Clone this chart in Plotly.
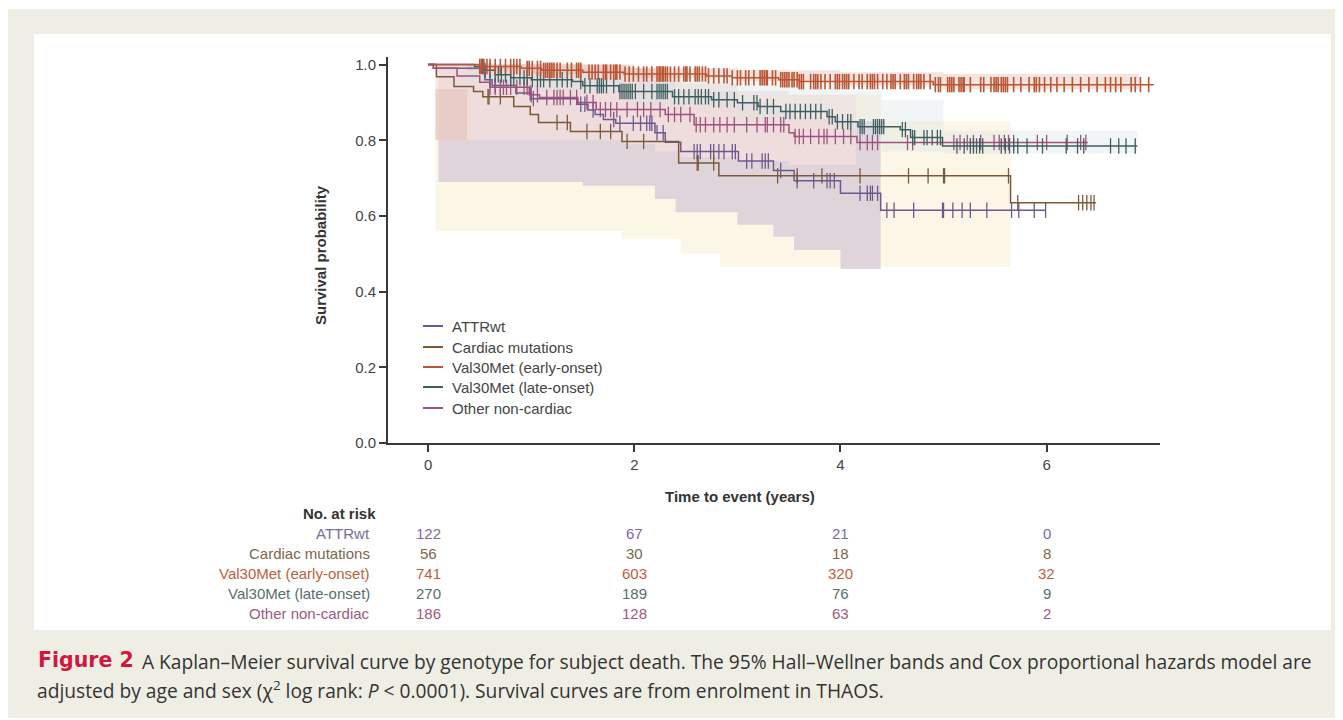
import plotly.graph_objects as go

# ---------------- data ----------------
series_names = ["ATTRwt", "Cardiac mutations", "Val30Met (early-onset)",
                "Val30Met (late-onset)", "Other non-cardiac"]
line_colors = ["#6c5a8e", "#7b5a3a", "#bb5533", "#3e5e60", "#9e527c"]
text_colors = ["#7b6b9b", "#806548", "#c0603a", "#5a6d6d", "#a0587f"]

# Kaplan-Meier step functions (time in years, survival)
attr_t = [0, 0.05, 0.5, 0.55, 0.62, 0.85, 1.0, 1.45, 1.55, 1.62, 1.7, 1.82, 2.2, 2.3, 2.45, 3.01, 3.35, 3.55, 4.0, 4.39, 5.99]
attr_s = [1.0, 0.99, 0.98, 0.96, 0.945, 0.925, 0.91, 0.895, 0.88, 0.868, 0.855, 0.845, 0.82, 0.795, 0.77, 0.745, 0.72, 0.693, 0.66, 0.615, 0.615]

card_t = [0, 0.08, 0.25, 0.44, 0.53, 0.83, 0.99, 1.07, 1.38, 1.88, 2.43, 2.82, 5.65, 6.48]
card_s = [1.0, 0.968, 0.942, 0.929, 0.915, 0.889, 0.868, 0.847, 0.823, 0.797, 0.74, 0.706, 0.635, 0.635]

early_t = [0, 0.5, 0.9, 1.1, 1.5, 1.9, 2.7, 2.95, 3.4, 3.6, 4.9, 7.04]
early_s = [1.0, 0.995, 0.99, 0.985, 0.98, 0.975, 0.97, 0.965, 0.96, 0.955, 0.947, 0.947]

late_t = [0, 0.45, 0.55, 0.65, 0.8, 1.0, 1.4, 1.5, 1.85, 2.37, 2.75, 3.0, 3.2, 3.42, 3.87, 3.95, 4.17, 4.58, 4.68, 4.99, 6.88]
late_s = [1.0, 0.995, 0.985, 0.973, 0.965, 0.96, 0.955, 0.944, 0.929, 0.915, 0.907, 0.899, 0.889, 0.876, 0.862, 0.849, 0.836, 0.828, 0.807, 0.785, 0.785]

other_t = [0, 0.05, 0.28, 0.5, 0.6, 0.98, 1.08, 1.45, 1.63, 2.3, 2.58, 3.5, 3.55, 4.16, 6.4]
other_s = [1.0, 0.99, 0.97, 0.953, 0.94, 0.92, 0.913, 0.9, 0.881, 0.868, 0.841, 0.82, 0.81, 0.794, 0.794]

# censoring times
attr_c = [0.60, 0.65, 0.99, 1.02, 1.48, 1.52, 1.60, 1.80, 1.86, 1.99, 2.06, 2.12, 2.15, 2.17, 2.22, 2.28,
          2.58, 2.61, 2.64, 2.74, 2.77, 2.82, 2.87, 2.95, 2.98, 3.09, 3.14, 3.24, 3.27, 3.30, 3.42, 3.58,
          3.74, 3.87, 3.90, 3.94, 4.19, 4.26, 4.29, 4.31, 4.36, 4.45, 4.52, 4.71, 4.99, 5.00, 5.09, 5.18,
          5.26, 5.42, 5.66, 5.73, 5.88, 5.99]
card_c = [0.58, 0.59, 0.70, 1.25, 1.35, 1.54, 1.67, 1.77, 1.93, 2.09, 2.61, 2.62, 2.77, 3.39, 3.58, 3.82,
          4.19, 4.66, 4.85, 5.00, 5.01, 5.63, 5.72, 6.31, 6.35, 6.39, 6.43, 6.46]
early_c = [0.50, 0.52, 0.54, 0.57, 0.60, 0.65, 0.70, 0.75, 0.80, 0.83, 0.86, 0.89, 0.96, 0.98, 1.01,
           1.06, 1.09, 1.12, 1.14, 1.16, 1.18, 1.20, 1.22, 1.25, 1.28, 1.35, 1.39, 1.44, 1.46, 1.48,
           1.56, 1.59, 1.62, 1.65, 1.70, 1.72, 1.73, 1.77, 1.80, 1.82, 1.83, 1.86, 1.91, 1.95, 1.99,
           2.04, 2.09, 2.12, 2.17, 2.22, 2.24, 2.25, 2.27, 2.28, 2.30, 2.32, 2.35, 2.39, 2.43, 2.48,
           2.50, 2.51, 2.54, 2.59, 2.61, 2.63, 2.66, 2.69, 2.72, 2.77, 2.82, 2.87, 2.90, 2.95, 3.00,
           3.03, 3.08, 3.11, 3.16, 3.22, 3.24, 3.26, 3.28, 3.29, 3.34, 3.37, 3.42, 3.44, 3.46, 3.48,
           3.50, 3.53, 3.55, 3.58, 3.60, 3.62, 3.64, 3.71, 3.74, 3.76, 3.78, 3.81, 3.85, 3.90, 3.95,
           3.97, 3.99, 4.02, 4.04, 4.06, 4.08, 4.13, 4.18, 4.21, 4.26, 4.29, 4.31, 4.33, 4.36, 4.41,
           4.45, 4.49, 4.51, 4.53, 4.58, 4.62, 4.64, 4.66, 4.71, 4.74, 4.76, 4.78, 4.81, 4.87, 4.92,
           4.95, 4.97, 5.04, 5.06, 5.08, 5.10, 5.15, 5.17, 5.19, 5.20, 5.26, 5.36, 5.39, 5.46, 5.49,
           5.51, 5.53, 5.56, 5.58, 5.60, 5.62, 5.68, 5.75, 5.83, 5.88, 5.90, 5.93, 5.98, 6.04, 6.10,
           6.17, 6.25, 6.33, 6.41, 6.49, 6.57, 6.62, 6.67, 6.72, 6.82, 6.86, 6.91, 6.99]
late_c = [0.50, 0.52, 0.53, 0.55, 0.60, 0.65, 0.68, 0.71, 0.75, 0.80, 0.83, 0.89, 0.93, 0.96, 1.01,
          1.06, 1.09, 1.12, 1.18, 1.25, 1.30, 1.35, 1.39, 1.48, 1.52, 1.57, 1.64, 1.66, 1.68, 1.70,
          1.73, 1.80, 1.86, 1.88, 1.90, 1.92, 1.94, 1.96, 1.98, 2.01, 2.09, 2.17, 2.22, 2.24, 2.26,
          2.28, 2.30, 2.32, 2.39, 2.43, 2.48, 2.53, 2.59, 2.62, 2.65, 2.69, 2.72, 2.77, 2.82, 2.90,
          2.97, 3.05, 3.16, 3.19, 3.22, 3.29, 3.35, 3.47, 3.51, 3.56, 3.61, 3.66, 3.71, 3.76, 3.81,
          3.89, 3.92, 3.97, 4.02, 4.07, 4.10, 4.19, 4.21, 4.23, 4.32, 4.34, 4.36, 4.38, 4.40, 4.42,
          4.60, 4.63, 4.70, 4.72, 4.81, 4.84, 4.89, 4.94, 4.97, 5.13, 5.20, 5.26, 5.29, 5.32, 5.35,
          5.38, 5.56, 5.60, 5.64, 5.68, 5.72, 5.81, 5.96, 6.19, 6.30, 6.36, 6.62, 6.70, 6.77, 6.86]
other_c = [0.60, 0.65, 0.70, 0.73, 0.76, 0.80, 0.86, 0.93, 0.96, 1.00, 1.06, 1.15, 1.22, 1.25, 1.28,
           1.31, 1.38, 1.44, 1.54, 1.60, 1.67, 1.72, 1.77, 1.83, 1.93, 2.03, 2.09, 2.16, 2.25, 2.33,
           2.39, 2.45, 2.54, 2.60, 2.64, 2.69, 2.77, 2.83, 2.90, 2.97, 3.09, 3.19, 3.27, 3.29, 3.35,
           3.42, 3.45, 3.56, 3.60, 3.64, 3.71, 3.79, 3.84, 3.87, 3.95, 4.03, 4.10, 4.19, 4.26, 4.31,
           4.36, 4.65, 4.70, 5.10, 5.16, 5.23, 5.29, 5.36, 5.49, 5.54, 5.59, 5.63, 5.68, 5.91, 6.00,
           6.20, 6.33, 6.38]

# 95% Hall-Wellner bands (time, lower, upper)
card_band_t = [0.07, 1.0, 1.88, 2.45, 2.83, 4.39, 5.65]
card_band_lo = [0.56, 0.56, 0.54, 0.50, 0.466, 0.466, 0.466]
card_band_hi = [1.0, 1.0, 0.98, 0.95, 0.92, 0.85, 0.85]

attr_band_t = [0.1, 1.5, 2.2, 2.4, 3.0, 3.35, 3.55, 4.0, 4.39]
attr_band_lo = [0.69, 0.68, 0.645, 0.61, 0.577, 0.545, 0.51, 0.46, 0.46]
attr_band_hi = [1.0, 0.99, 0.96, 0.93, 0.9, 0.88, 0.86, 0.85, 0.85]

other_band_t = [0.07, 1.9, 2.2, 2.45, 3.0, 3.5, 4.15]
other_band_lo = [0.80, 0.79, 0.77, 0.755, 0.745, 0.735, 0.735]
other_band_hi = [1.0, 0.99, 0.97, 0.95, 0.93, 0.92, 0.92]

late_band_t = [0.38, 1.0, 2.0, 3.0, 4.0, 4.4, 5.0, 6.88]
late_band_lo = [0.95, 0.93, 0.89, 0.86, 0.80, 0.77, 0.765, 0.765]
late_band_hi = [1.0, 0.99, 0.97, 0.95, 0.93, 0.907, 0.825, 0.825]

early_band_t = [0.07, 0.38, 1.0, 2.0, 3.0, 4.0, 5.0, 6.9]
early_band_lo = [0.80, 0.985, 0.975, 0.965, 0.955, 0.945, 0.935, 0.935]
early_band_hi = [0.935, 1.0, 1.0, 0.99, 0.985, 0.98, 0.975, 0.975]

# numbers at risk
risk_times = [0, 2, 4, 6]
risk_attr = [122, 67, 21, 0]
risk_card = [56, 30, 18, 8]
risk_early = [741, 603, 320, 32]
risk_late = [270, 189, 76, 9]
risk_other = [186, 128, 63, 2]

x_ticks = [0, 2, 4, 6]
y_ticks = [0.0, 0.2, 0.4, 0.6, 0.8, 1.0]

# ---------------- layout geometry (target page pixels) ----------------
PAGE_W, PAGE_H = 1343, 720
OFF = 8                      # default body margin of the html page
L, R, T, B = 388, 1160, 57, 443


def px(x):
    return (x - L) / (R - L)


def py(y):
    return (B - y) / (B - T)


def step_at(ts, ss, t):
    v = ss[0]
    for ti, si in zip(ts, ss):
        if ti <= t:
            v = si
    return v


fig = go.Figure()

bands = [
    (card_band_t, card_band_lo, card_band_hi, "rgba(248,236,200,0.45)"),
    (attr_band_t, attr_band_lo, attr_band_hi, "rgba(215,200,215,0.75)"),
    (other_band_t, other_band_lo, other_band_hi, "rgba(245,225,222,0.7)"),
    (late_band_t, late_band_lo, late_band_hi, "rgba(215,225,228,0.35)"),
    (early_band_t, early_band_lo, early_band_hi, "rgba(215,165,150,0.3)"),
]
for bt, blo, bhi, col in bands:
    fig.add_trace(go.Scatter(x=bt, y=blo, mode="lines", line=dict(width=0, shape="hv"),
                             hoverinfo="skip", showlegend=False))
    fig.add_trace(go.Scatter(x=bt, y=bhi, mode="lines", line=dict(width=0, shape="hv"),
                             fill="tonexty", fillcolor=col, hoverinfo="skip", showlegend=False))

curves = [
    (attr_t, attr_s, attr_c, 0),
    (card_t, card_s, card_c, 1),
    (other_t, other_s, other_c, 4),
    (late_t, late_s, late_c, 3),
    (early_t, early_s, early_c, 2),
]
for ts, ss, cs, i in curves:
    fig.add_trace(go.Scatter(x=ts, y=ss, mode="lines", name=series_names[i],
                             line=dict(color=line_colors[i], width=1.5, shape="hv"),
                             showlegend=False))
    fig.add_trace(go.Scatter(x=cs, y=[step_at(ts, ss, c) for c in cs], mode="markers",
                             marker=dict(symbol="line-ns", size=11,
                                         line=dict(color=line_colors[i], width=1.6 if i == 2 else 1.3)),
                             hoverinfo="skip", showlegend=False))

shapes = [
    dict(type="rect", xref="paper", yref="paper", x0=px(8), x1=px(1343), y0=py(718), y1=py(9),
         fillcolor="#efeee4", line=dict(width=0), layer="below"),
    dict(type="rect", xref="paper", yref="paper", x0=px(34), x1=px(1331), y0=py(630), y1=py(34),
         fillcolor="#ffffff", line=dict(width=0), layer="below"),
]

annotations = []
font_main = "Liberation Sans, Arial, sans-serif"

leg_y = [326, 347, 367, 387, 408]
for i, name in enumerate(series_names):
    shapes.append(dict(type="line", xref="paper", yref="paper", x0=px(423), x1=px(443),
                       y0=py(leg_y[i]), y1=py(leg_y[i]),
                       line=dict(color=line_colors[i], width=2)))
    annotations.append(dict(xref="paper", yref="paper", x=px(450), y=py(leg_y[i]), text=name,
                            xanchor="left", yanchor="middle", showarrow=False,
                            font=dict(family=font_main, size=15, color="#444444")))

annotations.append(dict(xref="paper", yref="paper", x=px(320), y=py(255), text="<b>Survival probability</b>",
                        textangle=-90, showarrow=False, xanchor="center", yanchor="middle",
                        font=dict(family=font_main, size=15, color="#333333")))
annotations.append(dict(xref="paper", yref="paper", x=px(740), y=py(496), text="<b>Time to event (years)</b>",
                        showarrow=False, xanchor="center", yanchor="middle",
                        font=dict(family=font_main, size=15, color="#333333")))

annotations.append(dict(xref="paper", yref="paper", x=px(378), y=py(513), text="<b>No. at risk</b>",
                        showarrow=False, xanchor="right", yanchor="middle",
                        font=dict(family=font_main, size=15, color="#333333")))
risk_rows = [risk_attr, risk_card, risk_early, risk_late, risk_other]
row_y = [533, 553, 573, 593, 613]
for i, row in enumerate(risk_rows):
    annotations.append(dict(xref="paper", yref="paper", x=px(372), y=py(row_y[i]), text=series_names[i],
                            showarrow=False, xanchor="right", yanchor="middle",
                            font=dict(family=font_main, size=15, color=text_colors[i])))
    for tt, v in zip(risk_times, row):
        annotations.append(dict(xref="x", yref="paper", x=tt, y=py(row_y[i]), text=str(v),
                                showarrow=False, xanchor="center", yanchor="middle",
                                font=dict(family=font_main, size=15, color=text_colors[i])))

cap_font = "Open Sans, Lato, sans-serif"
annotations.append(dict(xref="paper", yref="paper", x=px(36), y=py(660), text="<b>Figure 2</b>",
                        showarrow=False, xanchor="left", yanchor="middle",
                        font=dict(family="DejaVu Sans, sans-serif", size=20.5, color="#d2173f")))
annotations.append(dict(xref="paper", yref="paper", x=px(140), y=py(661),
                        text="A Kaplan–Meier survival curve by genotype for subject death. The 95% Hall–Wellner bands and Cox proportional hazards model are",
                        showarrow=False, xanchor="left", yanchor="middle",
                        font=dict(family=cap_font, size=19.2, color="#333333")))
annotations.append(dict(xref="paper", yref="paper", x=px(35), y=py(690),
                        text="adjusted by age and sex (χ<sup>2</sup> log rank: <i>P</i> < 0.0001). Survival curves are from enrolment in THAOS.",
                        showarrow=False, xanchor="left", yanchor="middle",
                        font=dict(family=cap_font, size=19.2, color="#333333")))

fig.update_layout(
    width=PAGE_W - OFF, height=PAGE_H - OFF,
    margin=dict(l=L - OFF, r=PAGE_W - R, t=T - OFF, b=PAGE_H - B, pad=0),
    paper_bgcolor="#ffffff", plot_bgcolor="rgba(0,0,0,0)",
    shapes=shapes, annotations=annotations, showlegend=False,
    font=dict(family=font_main, size=15, color="#444444"),
)
fig.update_xaxes(range=[-0.39, 7.1], tickvals=x_ticks, ticktext=[str(v) for v in x_ticks],
                 showgrid=False, zeroline=False, showline=True, linecolor="#3a3a3a", linewidth=2,
                 ticks="outside", ticklen=7, tickwidth=2, tickcolor="#3a3a3a",
                 tickfont=dict(family=font_main, size=15, color="#444444"))
fig.update_yaxes(range=[0, 1.02], tickvals=y_ticks, ticktext=["%.1f" % v for v in y_ticks],
                 showgrid=False, zeroline=False, showline=True, linecolor="#3a3a3a", linewidth=2,
                 ticks="outside", ticklen=7, tickwidth=2, tickcolor="#3a3a3a",
                 tickfont=dict(family=font_main, size=15, color="#444444"))

fig.write_html("out.html")
